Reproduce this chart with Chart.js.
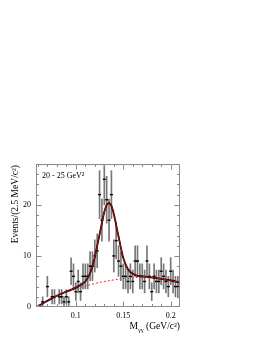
<!DOCTYPE html>
<html>
<head>
<meta charset="utf-8">
<script src="https://cdn.jsdelivr.net/npm/chart.js@4"></script>
<style>
html,body{margin:0;padding:0;background:#fff;}
#wrap{width:266px;height:344px;position:relative;}
</style>
</head>
<body>
<div id="wrap"><canvas id="c" width="266" height="344"></canvas></div>
<script>
// ---- data ----
const binX = [0.065,0.07,0.075,0.0775,0.0825,0.085,0.0875,0.09,0.0925,0.095,0.0975,0.1,0.1025,0.105,0.1075,0.11,0.1125,0.115,0.1175,0.12,0.1225,0.125,0.1275,0.13,0.1325,0.135,0.1375,0.14,0.1425,0.145,0.1475,0.15,0.1525,0.155,0.1575,0.16,0.1625,0.165,0.1675,0.17,0.1725,0.175,0.1775,0.18,0.1825,0.185,0.1875,0.19,0.1925,0.195,0.1975,0.2,0.2025,0.205,0.2075,0.21];
const counts = [1,4,2,2,2,2,1,2,1,7,6,3,5,3,6,6,6,8,8,10,11,22,17,25,21,17,22,10,13,9,8,6,6,5,6,5,9,9,6,6,5,9,6,3,6,5,5,7,6,5,4,7,5,4,4,5];
const errs = [1,2,1.41,1.41,1.41,1.41,1,1.41,1,2.65,2.45,1.73,2.24,1.73,2.45,2.45,2.45,2.83,2.83,3.16,3.32,4.69,4.12,5,4.58,4.12,4.69,3.16,3.61,3,2.83,2.45,2.45,2.24,2.45,2.24,3,3,2.45,2.45,2.24,3,2.45,1.73,2.45,2.24,2.24,2.65,2.45,2.24,2,2.65,2.24,2,2,2.24];
// fitted total curve (signal + background), read at sample points
const fitX =   [0.059,0.065,0.07,0.08,0.09,0.10,0.105,0.11,0.115,0.12,0.125,0.13,0.1325,0.135,0.1375,0.14,0.145,0.15,0.155,0.16,0.165,0.17,0.18,0.19,0.20,0.2098];
const fitY =   [0.0,0.7,1.2,2.2,3.0,3.8,4.3,5.0,6.6,9.8,14.2,18.6,20.0,20.4,19.8,18.2,13.8,9.6,7.4,6.5,6.1,6.0,5.8,5.5,5.2,4.8];
// background component
const bkgX =   [0.059,0.065,0.07,0.08,0.09,0.10,0.11,0.12,0.13,0.14,0.15,0.16,0.17,0.18,0.19,0.20,0.2098];
const bkgY =   [0.0,0.7,1.2,2.1,2.9,3.5,4.1,4.6,5.0,5.3,5.6,5.75,5.8,5.7,5.5,5.2,4.8];
const xTicks = [0.1,0.15,0.2];
const xTickLabels = ['0.1','0.15','0.2'];
const xMinor = [0.06,0.07,0.08,0.09,0.11,0.12,0.13,0.14,0.16,0.17,0.18,0.19,0.21];
const yTicks = [0,10,20];
const yTickLabels = ['0','10','20'];
const yMinor = [2,4,6,8,12,14,16,18,22,24,26];
const xRange = [0.0580,0.2098];
const yRange = [0,28];
const panelLabel = '20 - 25 GeV\u00B2';
const yTitle = 'Events/(2.5 MeV/c\u00B2)';
const xTitleMain = 'M';
const xTitleSub = '\u03B3\u03B3';
const xTitleRest = ' (GeV/c\u00B2)';

const SERIF = '"Liberation Serif","DejaVu Serif",serif';

const framePlugin = {
  id:'frame',
  afterDatasetsDraw(chart){
    const {ctx, chartArea:a, scales:{x, y}} = chart;
    ctx.save();
    ctx.strokeStyle = '#8a8a8a';
    ctx.lineWidth = 1;
    ctx.strokeRect(Math.round(a.left)+0.5, Math.round(a.top)+0.5, Math.round(a.right-a.left)-1, Math.round(a.bottom-a.top)-1);
    ctx.beginPath();
    const L = Math.round(a.left)+0.5, R = Math.round(a.right)-0.5, T = Math.round(a.top)+0.5, B = Math.round(a.bottom)-0.5;
    const tick = (v, len, axis) => {
      if (axis==='x'){
        const p = Math.round(x.getPixelForValue(v))+0.5;
        if (p < a.left || p > a.right) return;
        ctx.moveTo(p,B); ctx.lineTo(p,B-len);
        ctx.moveTo(p,T); ctx.lineTo(p,T+len);
      } else {
        const p = Math.round(y.getPixelForValue(v))+0.5;
        if (p < a.top || p > a.bottom) return;
        ctx.moveTo(L,p); ctx.lineTo(L+len,p);
        ctx.moveTo(R,p); ctx.lineTo(R-len,p);
      }
    };
    xTicks.forEach(v=>tick(v,5,'x'));
    xMinor.forEach(v=>tick(v,2.5,'x'));
    yTicks.forEach(v=>tick(v,5,'y'));
    yMinor.forEach(v=>tick(v,2.5,'y'));
    ctx.stroke();

    ctx.fillStyle = '#000';
    // panel label
    ctx.font = '8px ' + SERIF;
    ctx.textBaseline = 'alphabetic';
    ctx.textAlign = 'left';
    ctx.fillText(panelLabel, a.left + 6, a.top + 14);
    // y title
    ctx.save();
    ctx.translate(18, a.top + 1);
    ctx.rotate(-Math.PI/2);
    ctx.font = '9.5px ' + SERIF;
    ctx.textAlign = 'right';
    ctx.fillText(yTitle, 0, 0);
    ctx.restore();
    // x title (right aligned to plot edge)
    ctx.font = '9.5px ' + SERIF;
    const wRest = ctx.measureText(xTitleRest).width;
    ctx.font = '6.5px ' + SERIF;
    const wSub = ctx.measureText(xTitleSub).width;
    ctx.font = '9.5px ' + SERIF;
    const wM = ctx.measureText(xTitleMain).width;
    let xs = a.right - wRest - wSub - wM;
    const by = a.bottom + 22;
    ctx.textAlign = 'left';
    ctx.fillText(xTitleMain, xs, by); xs += wM;
    ctx.font = '6.5px ' + SERIF;
    ctx.fillText(xTitleSub, xs, by + 2.5); xs += wSub;
    ctx.font = '9.5px ' + SERIF;
    ctx.fillText(xTitleRest, xs, by);
    ctx.restore();
  }
};

const errData = binX.map((v,i)=>({x:v, y:[counts[i]-errs[i], counts[i]+errs[i]]}));
const ptData = binX.map((v,i)=>({x:v, y:counts[i]}));
const fitData = fitX.map((v,i)=>({x:v, y:fitY[i]}));
const bkgData = bkgX.map((v,i)=>({x:v, y:bkgY[i]}));

new Chart(document.getElementById('c'), {
  type:'scatter',
  data:{datasets:[
    {type:'line', data:bkgData, borderColor:'#ee2222', borderWidth:1, borderDash:[2,2], pointRadius:0, tension:0.4, fill:false, order:4},
    {type:'bar', data:errData, backgroundColor:'#777777', barThickness:1, grouped:false, order:3},
    {type:'scatter', data:ptData, pointStyle:'line', pointRadius:1.5, borderColor:'#000', borderWidth:1.4, backgroundColor:'#000', order:2},
    {type:'line', data:fitData, borderColor:'#000', borderWidth:1.8, pointRadius:0, tension:0.4, cubicInterpolationMode:'monotone', fill:false, order:1},
    {type:'line', data:fitData, borderColor:'#dd1111', borderWidth:0.8, pointRadius:0, tension:0.4, cubicInterpolationMode:'monotone', fill:false, order:0}
  ]},
  options:{
    responsive:false, animation:false, devicePixelRatio:1,
    layout:{padding:{top:164,right:86,left:0,bottom:0}},
    plugins:{legend:{display:false}, tooltip:{enabled:false}},
    scales:{
      x:{type:'linear', min:xRange[0], max:xRange[1], offset:false,
        grid:{display:false, drawTicks:false}, border:{display:false},
        ticks:{color:'#000', font:{family:SERIF, size:8}, padding:4, maxRotation:0, autoSkip:false,
          callback:(v)=>{const i=xTicks.indexOf(v); return i>=0?xTickLabels[i]:'';}},
        afterBuildTicks:(s)=>{s.ticks = xTicks.map(v=>({value:v}));},
        afterFit:(s)=>{s.height = 37;}},
      y:{type:'linear', min:yRange[0], max:yRange[1],
        grid:{display:false, drawTicks:false}, border:{display:false},
        ticks:{color:'#000', font:{family:SERIF, size:8}, padding:5,
          callback:(v)=>{const i=yTicks.indexOf(v); return i>=0?yTickLabels[i]:'';}},
        afterBuildTicks:(s)=>{s.ticks = yTicks.map(v=>({value:v}));},
        afterFit:(s)=>{s.width = 36;}}
    }
  },
  plugins:[framePlugin]
});
</script>
</body>
</html>
